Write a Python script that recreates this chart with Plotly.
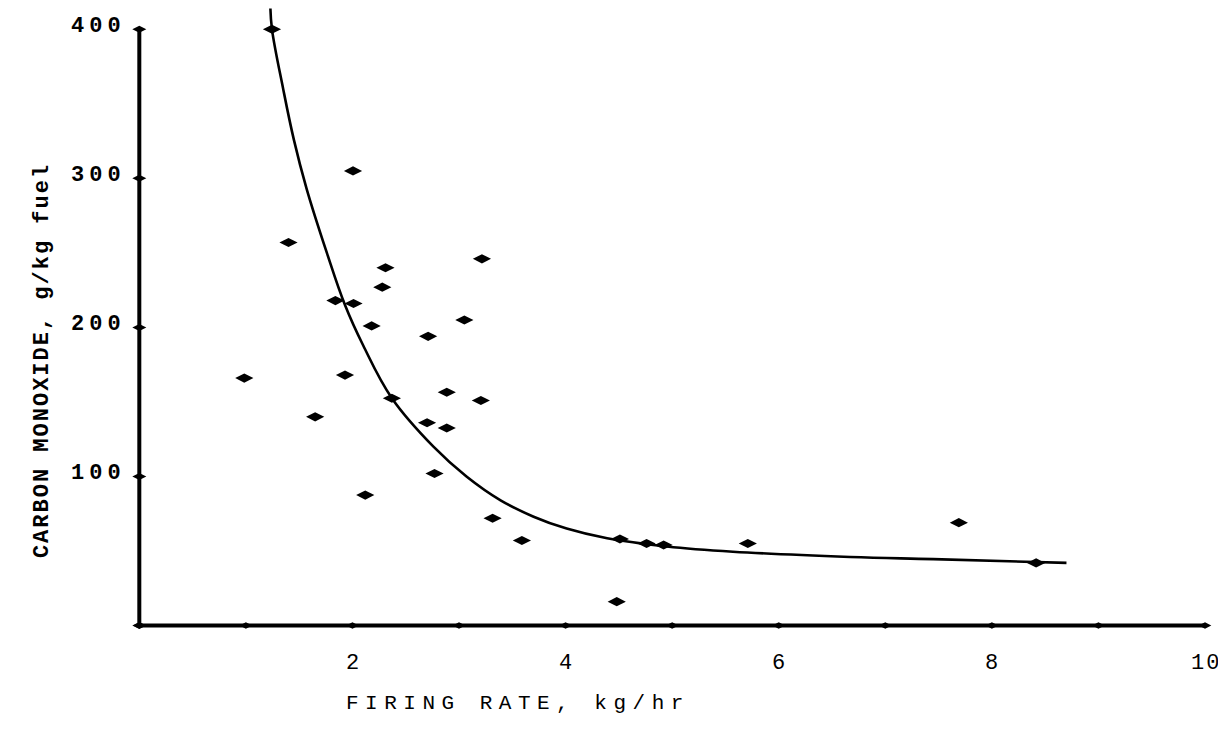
import plotly.graph_objects as go

# ---- data ----
firing_rate = [1.245, 2.005, 1.40, 3.215, 2.31, 2.28, 1.84, 2.01, 2.18, 3.05,
               2.71, 0.985, 1.93, 2.37, 2.885, 3.205, 1.65, 2.70, 2.885, 2.77,
               2.12, 3.315, 3.59, 4.48, 4.51, 4.76, 4.92, 5.71, 7.69, 8.415]
carbon_monoxide = [400, 305, 257, 246, 240, 227, 218, 216, 201, 205,
                   194, 166, 168, 152.5, 156.5, 151, 140, 136, 132.5, 102,
                   87.5, 72, 57, 16, 58, 55, 54, 55, 69, 42]

curve_x = [1.23, 1.245, 1.35, 1.45, 1.57, 1.76, 1.93, 2.10, 2.37, 2.76,
           3.07, 3.39, 3.70, 4.01, 4.39, 4.95, 5.57, 6.67, 7.45, 8.70]
curve_y = [414, 400, 360, 326, 293, 250, 215, 188, 152.5, 120,
           100, 84, 73, 65, 58.5, 53, 49.5, 46, 44.5, 42]

x_axis_ticks = [0, 1, 2, 3, 4, 5, 6, 7, 8, 9, 10]
x_label_vals = [2, 4, 6, 8, 10]
x_label_text = ["2", "4", "6", "8", "10"]
y_axis_ticks = [0, 100, 200, 300, 400]
y_label_vals = [100, 200, 300, 400]
y_label_text = ["100", "200", "300", "400"]

x_title = "FIRING RATE, kg/hr"
y_title = "CARBON MONOXIDE, g/kg fuel"

FONT = "Liberation Mono"

fig = go.Figure()

# axes drawn as heavy lines with diamond tick marks
fig.add_trace(go.Scatter(
    x=x_axis_ticks, y=[0] * len(x_axis_ticks), mode="lines+markers",
    line=dict(color="black", width=4),
    marker=dict(symbol="diamond-wide", size=9, color="black"),
    hoverinfo="skip", showlegend=False))
fig.add_trace(go.Scatter(
    x=[0] * len(y_axis_ticks), y=y_axis_ticks, mode="lines+markers",
    line=dict(color="black", width=4),
    marker=dict(symbol="diamond-wide", size=10, color="black"),
    hoverinfo="skip", showlegend=False))

# fitted curve
fig.add_trace(go.Scatter(
    x=curve_x, y=curve_y, mode="lines",
    line=dict(color="black", width=2.6, shape="spline", smoothing=1.1),
    hoverinfo="skip", showlegend=False))

# data points
fig.add_trace(go.Scatter(
    x=firing_rate, y=carbon_monoxide, mode="markers",
    marker=dict(symbol="diamond-wide", size=13, color="black"),
    showlegend=False))

annotations = []
for v, t in zip(x_label_vals, x_label_text):
    annotations.append(dict(
        x=v, y=0, xref="x", yref="y", yshift=-38, xshift=1, showarrow=False,
        xanchor="center", yanchor="middle",
        text=f'<span style="letter-spacing:2px">{t}</span>',
        font=dict(family=FONT, size=22, color="black")))
for v, t in zip(y_label_vals, y_label_text):
    annotations.append(dict(
        x=0, y=v, xref="x", yref="y", xshift=-11, yshift=3, showarrow=False,
        xanchor="right", yanchor="middle",
        text=f'<span style="letter-spacing:5px"><b>{t}</b></span>',
        font=dict(family=FONT, size=22, color="black")))

annotations.append(dict(
    x=0.205, y=0, xref="paper", yref="y", yshift=-78, showarrow=False,
    xanchor="left", yanchor="middle",
    text=f'<span style="letter-spacing:6.5px">{x_title}</span>',
    font=dict(family=FONT, size=21, color="black")))
annotations.append(dict(
    x=-0.069, y=178, xref="paper", yref="y", showarrow=False, textangle=-90,
    xanchor="center", yanchor="middle",
    text=f'<span style="letter-spacing:2px"><b>{y_title}</b></span>',
    font=dict(family=FONT, size=22, color="black")))

fig.update_layout(
    width=1218, height=721,
    margin=dict(l=110, r=5, t=0, b=89),
    paper_bgcolor="white", plot_bgcolor="white",
    xaxis=dict(range=[-0.2, 10.15], showgrid=False, zeroline=False,
               showline=False, showticklabels=False, ticks=""),
    yaxis=dict(range=[-9.73, 414.3], showgrid=False, zeroline=False,
               showline=False, showticklabels=False, ticks=""),
    annotations=annotations,
    showlegend=False,
)

fig.write_html("out.html")
